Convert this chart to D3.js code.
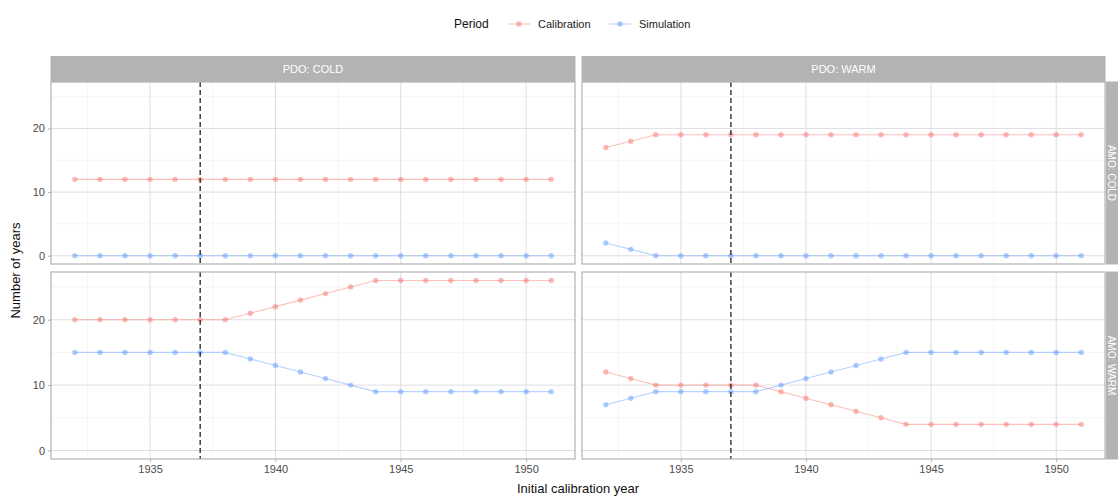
<!DOCTYPE html>
<html><head><meta charset="utf-8">
<script src="https://cdn.jsdelivr.net/npm/d3@7"></script>
<style>body{margin:0;background:#fff;} svg{display:block;font-family:"Liberation Sans",Arial,sans-serif;}</style>
</head><body><div id="chart"></div>
<script>
const years = d3.range(1932, 1952);
const pdoLevels = ["PDO: COLD", "PDO: WARM"];
const amoLevels = ["AMO: COLD", "AMO: WARM"];
const periods = ["Calibration", "Simulation"];
const periodColors = ["#F8766D", "#619CFF"];
const xTicks = [1935, 1940, 1945, 1950];
const yTicks = [0, 10, 20];
const cutYear = 1937;

// values per panel [pdo][amo]
const calColdCold = [12,12,12,12,12,12,12,12,12,12,12,12,12,12,12,12,12,12,12,12];
const simColdCold = [0,0,0,0,0,0,0,0,0,0,0,0,0,0,0,0,0,0,0,0];
const calWarmCold = [17,18,19,19,19,19,19,19,19,19,19,19,19,19,19,19,19,19,19,19];
const simWarmCold = [2,1,0,0,0,0,0,0,0,0,0,0,0,0,0,0,0,0,0,0];
const calColdWarm = [20,20,20,20,20,20,20,21,22,23,24,25,26,26,26,26,26,26,26,26];
const simColdWarm = [15,15,15,15,15,15,15,14,13,12,11,10,9,9,9,9,9,9,9,9];
const calWarmWarm = [12,11,10,10,10,10,10,9,8,7,6,5,4,4,4,4,4,4,4,4];
const simWarmWarm = [7,8,9,9,9,9,9,10,11,12,13,14,15,15,15,15,15,15,15,15];

const panels = [
  {pdo:0, amo:0, series:[calColdCold, simColdCold]},
  {pdo:1, amo:0, series:[calWarmCold, simWarmCold]},
  {pdo:0, amo:1, series:[calColdWarm, simColdWarm]},
  {pdo:1, amo:1, series:[calWarmWarm, simWarmWarm]}
];

const W = 1118, H = 497;
const svg = d3.select("#chart").append("svg").attr("width", W).attr("height", H);

const colX = [[51, 575], [582, 1105]];
const rowY = [[82, 264], [272, 459]];
const stripTop = 56, stripRightX = 1106, stripRightW = 22;

const allVals = [calColdCold,simColdCold,calWarmCold,simWarmCold,calColdWarm,simColdWarm,calWarmWarm,simWarmWarm].flat();
const yMin = d3.min(allVals), yMax = d3.max(allVals);
const yPad = (yMax - yMin) * 0.05;
const xPad = (d3.max(years) - d3.min(years)) * 0.05;

const grid = "#dedede", border = "#b3b3b3", stripFill = "#b3b3b3";

panels.forEach(p => {
  const [x0, x1] = colX[p.pdo];
  const [y0, y1] = rowY[p.amo];
  const x = d3.scaleLinear().domain([d3.min(years) - xPad, d3.max(years) + xPad]).range([x0, x1]);
  const y = d3.scaleLinear().domain([yMin - yPad, yMax + yPad]).range([y1, y0]);
  const g = svg.append("g");
  const xMinor = [1932.5, 1937.5, 1942.5, 1947.5];
  const yMinor = [5, 15, 25];
  g.selectAll(".xm").data(xMinor).join("line").attr("x1", d => x(d)).attr("x2", d => x(d))
    .attr("y1", y0).attr("y2", y1).attr("stroke", "#efefef").attr("stroke-width", 0.6);
  g.selectAll(".ym").data(yMinor).join("line").attr("y1", d => y(d)).attr("y2", d => y(d))
    .attr("x1", x0).attr("x2", x1).attr("stroke", "#efefef").attr("stroke-width", 0.6);
  g.selectAll(".xg").data(xTicks).join("line").attr("x1", d => x(d)).attr("x2", d => x(d))
    .attr("y1", y0).attr("y2", y1).attr("stroke", grid).attr("stroke-width", 1);
  g.selectAll(".yg").data(yTicks).join("line").attr("y1", d => y(d)).attr("y2", d => y(d))
    .attr("x1", x0).attr("x2", x1).attr("stroke", grid).attr("stroke-width", 1);

  p.series.forEach((vals, si) => {
    const pts = years.map((yr, i) => [yr, vals[i]]);
    g.append("path").datum(pts)
      .attr("d", d3.line().x(d => x(d[0])).y(d => y(d[1])))
      .attr("fill", "none").attr("stroke", periodColors[si]).attr("stroke-opacity", 0.45).attr("stroke-width", 1.1);
    g.selectAll(null).data(pts).join("circle")
      .attr("cx", d => x(d[0])).attr("cy", d => y(d[1])).attr("r", 2.7)
      .attr("fill", periodColors[si]).attr("fill-opacity", 0.5);
  });

  g.append("line").attr("x1", x(cutYear)).attr("x2", x(cutYear)).attr("y1", y0).attr("y2", y1)
    .attr("stroke", "#222").attr("stroke-width", 1.3).attr("stroke-dasharray", "5,3");

  g.append("rect").attr("x", x0).attr("y", y0).attr("width", x1 - x0).attr("height", y1 - y0)
    .attr("fill", "none").attr("stroke", border).attr("stroke-width", 1.2);

  if (p.pdo === 0) {
    const ax = g.append("g").attr("transform", `translate(${x0},0)`)
      .call(d3.axisLeft(y).tickValues(yTicks).tickSize(3).tickPadding(3));
    ax.select(".domain").remove();
    ax.selectAll("line").attr("stroke", border);
    ax.selectAll("text").attr("fill", "#4d4d4d").style("font-size", "11px").style("font-family", "Liberation Sans, Arial, sans-serif");
  }
  if (p.amo === 1) {
    const ax = g.append("g").attr("transform", `translate(0,${y1})`)
      .call(d3.axisBottom(x).tickValues(xTicks).tickFormat(d3.format("d")).tickSize(3).tickPadding(3));
    ax.select(".domain").remove();
    ax.selectAll("line").attr("stroke", border);
    ax.selectAll("text").attr("fill", "#4d4d4d").style("font-size", "11px").style("font-family", "Liberation Sans, Arial, sans-serif");
  }
  if (p.amo === 0) {
    svg.append("rect").attr("x", x0 - 0.5).attr("y", stripTop).attr("width", x1 - x0 + 1).attr("height", y0 - stripTop)
      .attr("fill", stripFill);
    svg.append("text").attr("x", (x0 + x1) / 2).attr("y", (stripTop + y0) / 2).attr("dy", "0.35em")
      .attr("text-anchor", "middle").attr("fill", "#fff").style("font-size", "11px").text(pdoLevels[p.pdo]);
  }
  if (p.pdo === 1) {
    svg.append("rect").attr("x", stripRightX).attr("y", y0 - 0.5).attr("width", stripRightW).attr("height", y1 - y0 + 1)
      .attr("fill", stripFill);
    svg.append("text").attr("transform", `translate(${stripRightX + 5.5},${(y0 + y1) / 2}) rotate(90)`)
      .attr("dy", "0.35em").attr("text-anchor", "middle").attr("fill", "#fff").style("font-size", "10px").text(amoLevels[p.amo]);
  }
});

svg.append("text").attr("x", (colX[0][0] + colX[1][1]) / 2).attr("y", 493)
  .attr("text-anchor", "middle").style("font-size", "13px").attr("fill", "#111").text("Initial calibration year");
svg.append("text").attr("transform", `translate(20,${(rowY[0][0] + rowY[1][1]) / 2}) rotate(-90)`)
  .attr("text-anchor", "middle").style("font-size", "13px").attr("fill", "#111").text("Number of years");

const lg = svg.append("g").attr("transform", "translate(0,24)");
lg.append("text").attr("x", 454).attr("y", 0).attr("dy", "0.35em").style("font-size", "12px").attr("fill", "#111").text("Period");
const keyX = [508, 609];
periods.forEach((name, i) => {
  const kx = keyX[i];
  lg.append("line").attr("x1", kx).attr("x2", kx + 22).attr("y1", 0).attr("y2", 0)
    .attr("stroke", periodColors[i]).attr("stroke-opacity", 0.45).attr("stroke-width", 1.1);
  lg.append("circle").attr("cx", kx + 11).attr("cy", 0).attr("r", 2.7).attr("fill", periodColors[i]).attr("fill-opacity", 0.5);
  lg.append("text").attr("x", kx + 30).attr("y", 0).attr("dy", "0.35em").style("font-size", "11px").attr("fill", "#222").text(name);
});
</script></body></html>
